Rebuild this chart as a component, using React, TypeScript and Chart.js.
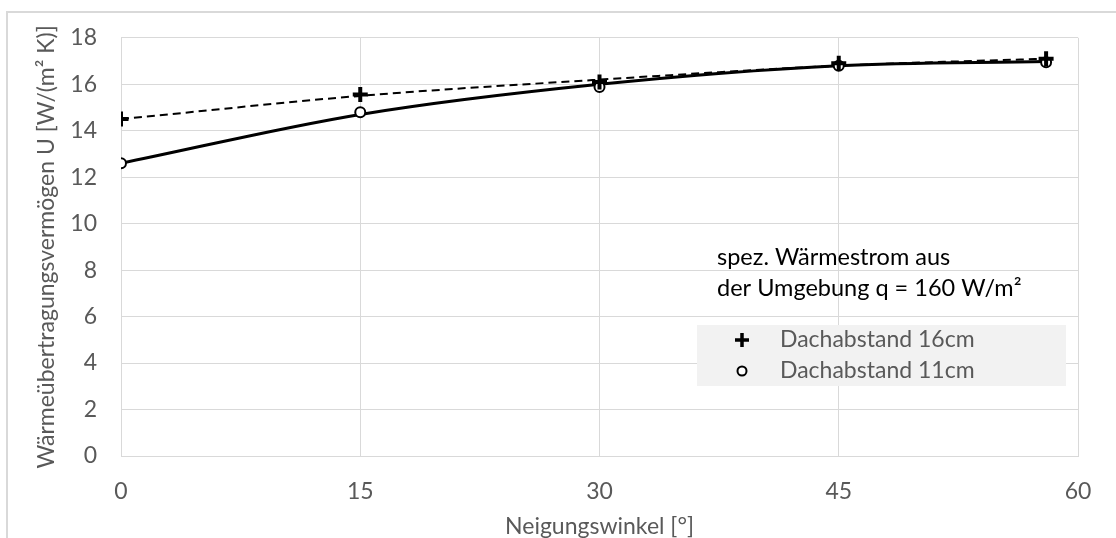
import React, { useEffect, useRef } from "react";
import { Chart, registerables } from "chart.js";

Chart.register(...registerables);

const angles = [0, 15, 30, 45, 58];
const u16 = [14.5, 15.56, 16.1, 16.9, 17.1];
const u11 = [12.6, 14.8, 15.88, 16.8, 16.95];
const trend16 = [14.5, 15.5, 16.2, 16.8, 17.1];
const trend11 = [12.6, 14.7, 16.0, 16.8, 16.98];
const xTicks = [0, 15, 30, 45, 60];
const yTicks = [0, 2, 4, 6, 8, 10, 12, 14, 16, 18];
const seriesLabels = ["Dachabstand 16cm", "Dachabstand 11cm"];
const noteLines = ["spez. Wärmestrom aus", "der Umgebung q = 160 W/m²"];
const xTitle = "Neigungswinkel [°]";
const yTitle = "Wärmeübertragungsvermögen U [W/(m² K)]";

const FONT = "Lato, 'Open Sans', sans-serif";
const GRID = "#d9d9d9";
const TXT = "#595959";

const legendNotePlugin = {
  id: "legendNote",
  afterDraw(chart: any) {
    const ctx = chart.ctx as CanvasRenderingContext2D;
    ctx.save();
    ctx.fillStyle = "#000000";
    ctx.font = `23.5px ${FONT}`;
    ctx.textAlign = "left";
    ctx.textBaseline = "middle";
    ctx.fillText(noteLines[0], 717, 257);
    ctx.fillText(noteLines[1], 717, 288);
    ctx.fillStyle = "#f2f2f2";
    ctx.fillRect(697, 325, 369, 61);
    ctx.strokeStyle = "#000";
    ctx.lineWidth = 3.5;
    ctx.beginPath();
    ctx.moveTo(735, 340);
    ctx.lineTo(749, 340);
    ctx.moveTo(742, 333);
    ctx.lineTo(742, 347);
    ctx.stroke();
    ctx.lineWidth = 2;
    ctx.fillStyle = "#fff";
    ctx.beginPath();
    ctx.arc(742, 371, 4.5, 0, Math.PI * 2);
    ctx.fill();
    ctx.stroke();
    ctx.fillStyle = TXT;
    ctx.font = `23px ${FONT}`;
    ctx.fillText(seriesLabels[0], 780, 340);
    ctx.fillText(seriesLabels[1], 780, 371);
    ctx.restore();
  },
};

export default function App() {
  const ref = useRef<HTMLCanvasElement | null>(null);
  useEffect(() => {
    if (!ref.current) return;
    const chart = new Chart(ref.current, {
      type: "line",
      data: {
        datasets: [
          {
            label: seriesLabels[0],
            data: angles.map((a, i) => ({ x: a, y: u16[i] })),
            showLine: false,
            pointStyle: "cross",
            pointRadius: 7.5,
            pointBorderWidth: 4,
            borderColor: "#000",
            backgroundColor: "#000",
          },
          {
            label: seriesLabels[1],
            data: angles.map((a, i) => ({ x: a, y: u11[i] })),
            showLine: false,
            pointStyle: "circle",
            pointRadius: 5,
            pointBorderWidth: 2,
            borderColor: "#000",
            backgroundColor: "#fff",
          },
          {
            label: "trend16",
            data: angles.map((a, i) => ({ x: a, y: trend16[i] })),
            borderColor: "#000",
            borderWidth: 2,
            borderDash: [8, 5],
            pointRadius: 0,
            cubicInterpolationMode: "monotone",
            fill: false,
          },
          {
            label: "trend11",
            data: angles.map((a, i) => ({ x: a, y: trend11[i] })),
            borderColor: "#000",
            borderWidth: 3,
            pointRadius: 0,
            cubicInterpolationMode: "monotone",
            fill: false,
          },
        ],
      },
      options: {
        animation: false,
        responsive: false,
        maintainAspectRatio: false,
        layout: { padding: { left: 8, top: 32, right: 38, bottom: 0 } },
        plugins: { legend: { display: false }, tooltip: { enabled: false } },
        scales: {
          x: {
            type: "linear",
            min: 0,
            max: 60,
            afterFit: (s: any) => {
              s.height = 82;
            },
            afterBuildTicks: (s: any) => {
              s.ticks = xTicks.map((v) => ({ value: v }));
            },
            grid: { color: GRID, lineWidth: 1, drawTicks: false },
            border: { color: GRID, width: 1 },
            ticks: { color: TXT, font: { family: FONT, size: 23 }, padding: 22 },
            title: {
              display: true,
              text: xTitle,
              color: TXT,
              font: { family: FONT, size: 23, lineHeight: 1 },
              padding: { top: 0, bottom: 0 },
            },
          },
          y: {
            min: 0,
            max: 18,
            afterFit: (s: any) => {
              s.width = 113;
            },
            afterBuildTicks: (s: any) => {
              s.ticks = yTicks.map((v) => ({ value: v }));
            },
            grid: { color: GRID, lineWidth: 1, drawTicks: false },
            border: { color: GRID, width: 1 },
            ticks: { color: TXT, font: { family: FONT, size: 23 }, padding: 24 },
            title: {
              display: true,
              text: yTitle,
              color: TXT,
              font: { family: FONT, size: 23, lineHeight: 1.2 },
              padding: { top: 25, bottom: 0 },
            },
          },
        },
      },
      plugins: [legendNotePlugin],
    });
    return () => chart.destroy();
  }, []);
  return (
    <div style={{ position: "fixed", left: 0, top: 0, width: 1116, height: 538, background: "#fff", overflow: "hidden" }}>
      <div
        style={{
          position: "absolute",
          left: 6,
          top: 11,
          width: 2000,
          height: 2000,
          borderLeft: "2px solid #d9d9d9",
          borderTop: "2px solid #d9d9d9",
          boxSizing: "border-box",
        }}
      />
      <canvas ref={ref} width={1116} height={538} style={{ position: "absolute", left: 0, top: 0, width: 1116, height: 538 }} />
    </div>
  );
}
